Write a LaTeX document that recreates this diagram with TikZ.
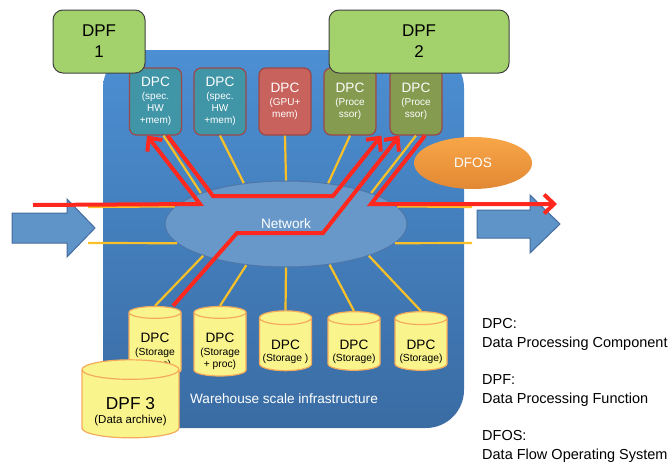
\documentclass[tikz,border=0pt]{standalone}
\usepackage{fontspec}
\setmainfont{Liberation Sans}
\usetikzlibrary{shapes.geometric,arrows.meta}

\definecolor{wsitop}{RGB}{76,143,211}
\definecolor{wsibottom}{RGB}{58,108,163}
\definecolor{dpfgreen}{RGB}{163,210,108}
\definecolor{specteal}{RGB}{64,149,167}
\definecolor{gpured}{RGB}{200,98,92}
\definecolor{procolive}{RGB}{133,155,80}
\definecolor{dpcline}{RGB}{155,72,72}
\definecolor{storefill}{RGB}{250,244,140}
\definecolor{storeline}{RGB}{244,172,92}
\definecolor{netfill}{RGB}{104,152,201}
\definecolor{netline}{RGB}{78,118,168}
\definecolor{fatblue}{RGB}{95,148,200}
\definecolor{fatline}{RGB}{68,108,158}
\definecolor{linkyellow}{RGB}{250,192,40}
\definecolor{flowred}{RGB}{255,40,30}
\definecolor{ostop}{RGB}{248,166,72}
\definecolor{osbottom}{RGB}{226,136,52}

\begin{document}
\begin{tikzpicture}[x=1pt,y=-1pt,
    dpc/.style={draw=dpcline, line width=1.2pt, rounded corners=7pt, minimum width=52pt,
        minimum height=67pt, inner sep=0pt, align=center, text=white,
        font=\fontsize{10}{12}\selectfont},
    dpf/.style={draw=black!75, line width=1pt, fill=dpfgreen, rounded corners=10pt,
        minimum height=63pt, inner sep=0pt, align=center, font=\fontsize{17}{21}\selectfont},
    store/.style={cylinder, shape border rotate=90, aspect=0.3, draw=storeline, line width=1.2pt,
        fill=storefill, minimum width=52pt, minimum height=57pt, inner sep=0pt, align=center,
        font=\fontsize{10.3}{12.5}\selectfont},
    link/.style={draw=linkyellow, line width=2.2pt},
    flow/.style={draw=flowred, line width=4pt, -{Straight Barb[length=10pt,width=19pt]}},
    fat/.style={fill=fatblue, draw=fatline, line width=1pt},
    legend/.style={anchor=north west, inner sep=0pt, align=left, font=\fontsize{14.5}{19}\selectfont}
]
    \useasboundingbox (0,0) rectangle (671,463);
    % warehouse scale infrastructure
    \shade[top color=wsitop, bottom color=wsibottom, rounded corners=38pt] (103,50) rectangle (464,428);
    \node[text=white, font=\fontsize{13.6}{16}\selectfont] (wsi) at (284,399) {Warehouse scale infrastructure};
    % big in / out arrows
    \draw[fat] (12,213) -- (67,213) -- (67,199) -- (95,228) -- (67,257) -- (67,243) -- (12,243) -- cycle;
    \draw[fat] (477,210) -- (530,210) -- (530,195) -- (560,224) -- (530,253) -- (530,238) -- (477,238) -- cycle;
    % free ends of the links and flows
    \coordinate (inA) at (88,207);
    \coordinate (inB) at (88,243);
    \coordinate (outA) at (472,207);
    \coordinate (outB) at (472,243);
    \coordinate (redin) at (33,205);
    \coordinate (redout) at (557,204);
    % network
    \node[ellipse, draw=netline, line width=1pt, fill=netfill, minimum width=242pt, minimum height=86pt,
        inner sep=0pt, text=white, font=\fontsize{13.6}{16}\selectfont] (net) at (286,224) {Network};
    % processing components
    \node[dpc, fill=specteal] (b1) at (155.5,101.5) {{\fontsize{13.6}{15}\selectfont DPC}\\[1pt](spec.\\HW\\+mem)};
    \node[dpc, fill=specteal] (b2) at (220,101.5) {{\fontsize{13.6}{15}\selectfont DPC}\\[1pt](spec.\\HW\\+mem)};
    \node[dpc, fill=gpured] (b3) at (285,101.5) {{\fontsize{13.6}{15}\selectfont DPC}\\[1pt](GPU+\\mem)};
    \node[dpc, fill=procolive] (b4) at (350,101.5) {{\fontsize{13.6}{15}\selectfont DPC}\\[1pt](Proce\\ssor)};
    \node[dpc, fill=procolive] (b5) at (416,101.5) {{\fontsize{13.6}{15}\selectfont DPC}\\[1pt](Proce\\ssor)};
    % storage components
    \node[store] (c1) at (155,344.5) {\rule{0pt}{24pt}{\fontsize{13.6}{15}\selectfont DPC}\\(Storage\\+ proc)};
    \node[store] (c2) at (220,344.5) {\rule{0pt}{24pt}{\fontsize{13.6}{15}\selectfont DPC}\\(Storage\\+ proc)};
    \node[store] (c3) at (285.5,344.5) {\rule{0pt}{24pt}{\fontsize{13.6}{15}\selectfont DPC}\\(Storage )};
    \node[store] (c4) at (354,344.5) {\rule{0pt}{24pt}{\fontsize{13.6}{15}\selectfont DPC}\\(Storage)};
    \node[store] (c5) at (421,344.5) {\rule{0pt}{24pt}{\fontsize{13.6}{15}\selectfont DPC}\\(Storage)};
    % links to the network
    \draw[link] ([xshift=8pt]b1.south) -- (net.160);
    \draw[link] (b2.south) -- (net.136);
    \draw[link] (b3.south) -- (net.90);
    \draw[link] (b4.south) -- (net.44);
    \draw[link] (b5.south) -- (net.20);
    \draw[link] (c1.north) -- (net.201);
    \draw[link] (c2.north) -- (net.226);
    \draw[link] (c3.north) -- (net.270);
    \draw[link] (c4.north) -- (net.317);
    \draw[link] (c5.north) -- (net.339);
    \draw[link] (inA) -- (net.171);
    \draw[link] (inB) -- (net.190);
    \draw[link] (outA) -- (net.9);
    \draw[link] (outB) -- (net.350);
    % functions
    \node[dpf, minimum width=92pt] (f1) at (99,41.5) {DPF\\1};
    \node[dpf, minimum width=180pt] (f2) at (419,41.5) {DPF\\2};
    \node[ellipse, top color=ostop, bottom color=osbottom, minimum width=118pt, minimum height=52pt,
        text=white, font=\fontsize{13.6}{16}\selectfont] (os) at (473,163) {DFOS};
    % data flows
    \draw[flow] (redin) -- (200,204) -- ([xshift=-8.5pt]b1.south);
    \draw[flow] ([xshift=12pt]b1.south) -- (213,196) -- (333,196) -- ([xshift=-8pt]b5.south west);
    \draw[flow] ([xshift=18pt]c1.north) -- (237,233) -- (323,233) -- ([xshift=10pt]b5.south west);
    \draw[flow] ([xshift=9pt]b5.south) -- (371,204) -- (redout);
    % archive
    \node[store, aspect=0.27, minimum width=97pt, minimum height=78pt, font=\fontsize{11.5}{14}\selectfont]
        (f3) at (130.5,404) {\rule{0pt}{28pt}{\fontsize{17.3}{19}\selectfont DPF 3}\\(Data archive)};
    % legend
    \node[legend] (kdpc) at (482,318.5) {DPC:\\Data Processing Component};
    \node[legend] (kdpf) at (482,374.5) {DPF:\\Data Processing Function};
    \node[legend] (kos) at (482,430.5) {DFOS:\\Data Flow Operating System};
\end{tikzpicture}
\end{document}
